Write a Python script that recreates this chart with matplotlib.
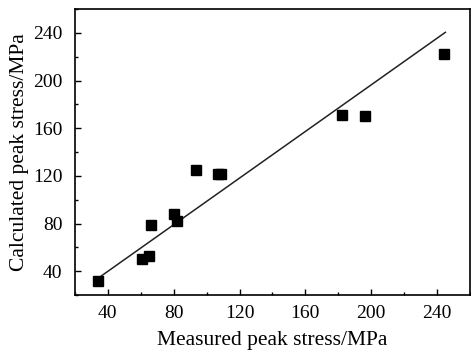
import matplotlib.pyplot as plt
from matplotlib.ticker import MultipleLocator

# measured vs calculated peak stress (MPa)
measured = [34, 61, 65, 66, 80, 82, 93.5, 107, 109, 182.5, 196, 244]
calculated = [32, 50, 53, 79, 88, 82, 125, 122, 122, 171, 170, 222]

# fitted line end points
fit_x = [35, 245]
fit_y = [35, 240.5]

plt.rcParams['font.family'] = ['Liberation Serif', 'DejaVu Serif']

fig = plt.figure(figsize=(4.71, 3.5), dpi=100)
ax = fig.add_axes([0.159, 0.157, 0.839, 0.817])

ax.plot(fit_x, fit_y, color='#222222', lw=1.1)
ax.plot(measured, calculated, 's', color='black', ms=7)

ax.set_xlim(20, 260)
ax.set_ylim(20, 260)
ax.set_xticks([40, 80, 120, 160, 200, 240])
ax.set_yticks([40, 80, 120, 160, 200, 240])
ax.xaxis.set_minor_locator(MultipleLocator(20))
ax.yaxis.set_minor_locator(MultipleLocator(20))
ax.tick_params(which='both', direction='in', labelsize=14, width=1)
ax.tick_params(which='major', length=4)
ax.tick_params(which='minor', length=2.5)
ax.tick_params(axis='y', pad=9)
ax.tick_params(axis='x', pad=7)
ax.tick_params(top=False, right=False)
for s in ax.spines.values():
    s.set_linewidth(1.2)

ax.set_xlabel('Measured peak stress/MPa', fontsize=15.5, labelpad=7)
ax.set_ylabel('Calculated peak stress/MPa', fontsize=15.5, labelpad=3)

fig.savefig('out.png', dpi=100)
